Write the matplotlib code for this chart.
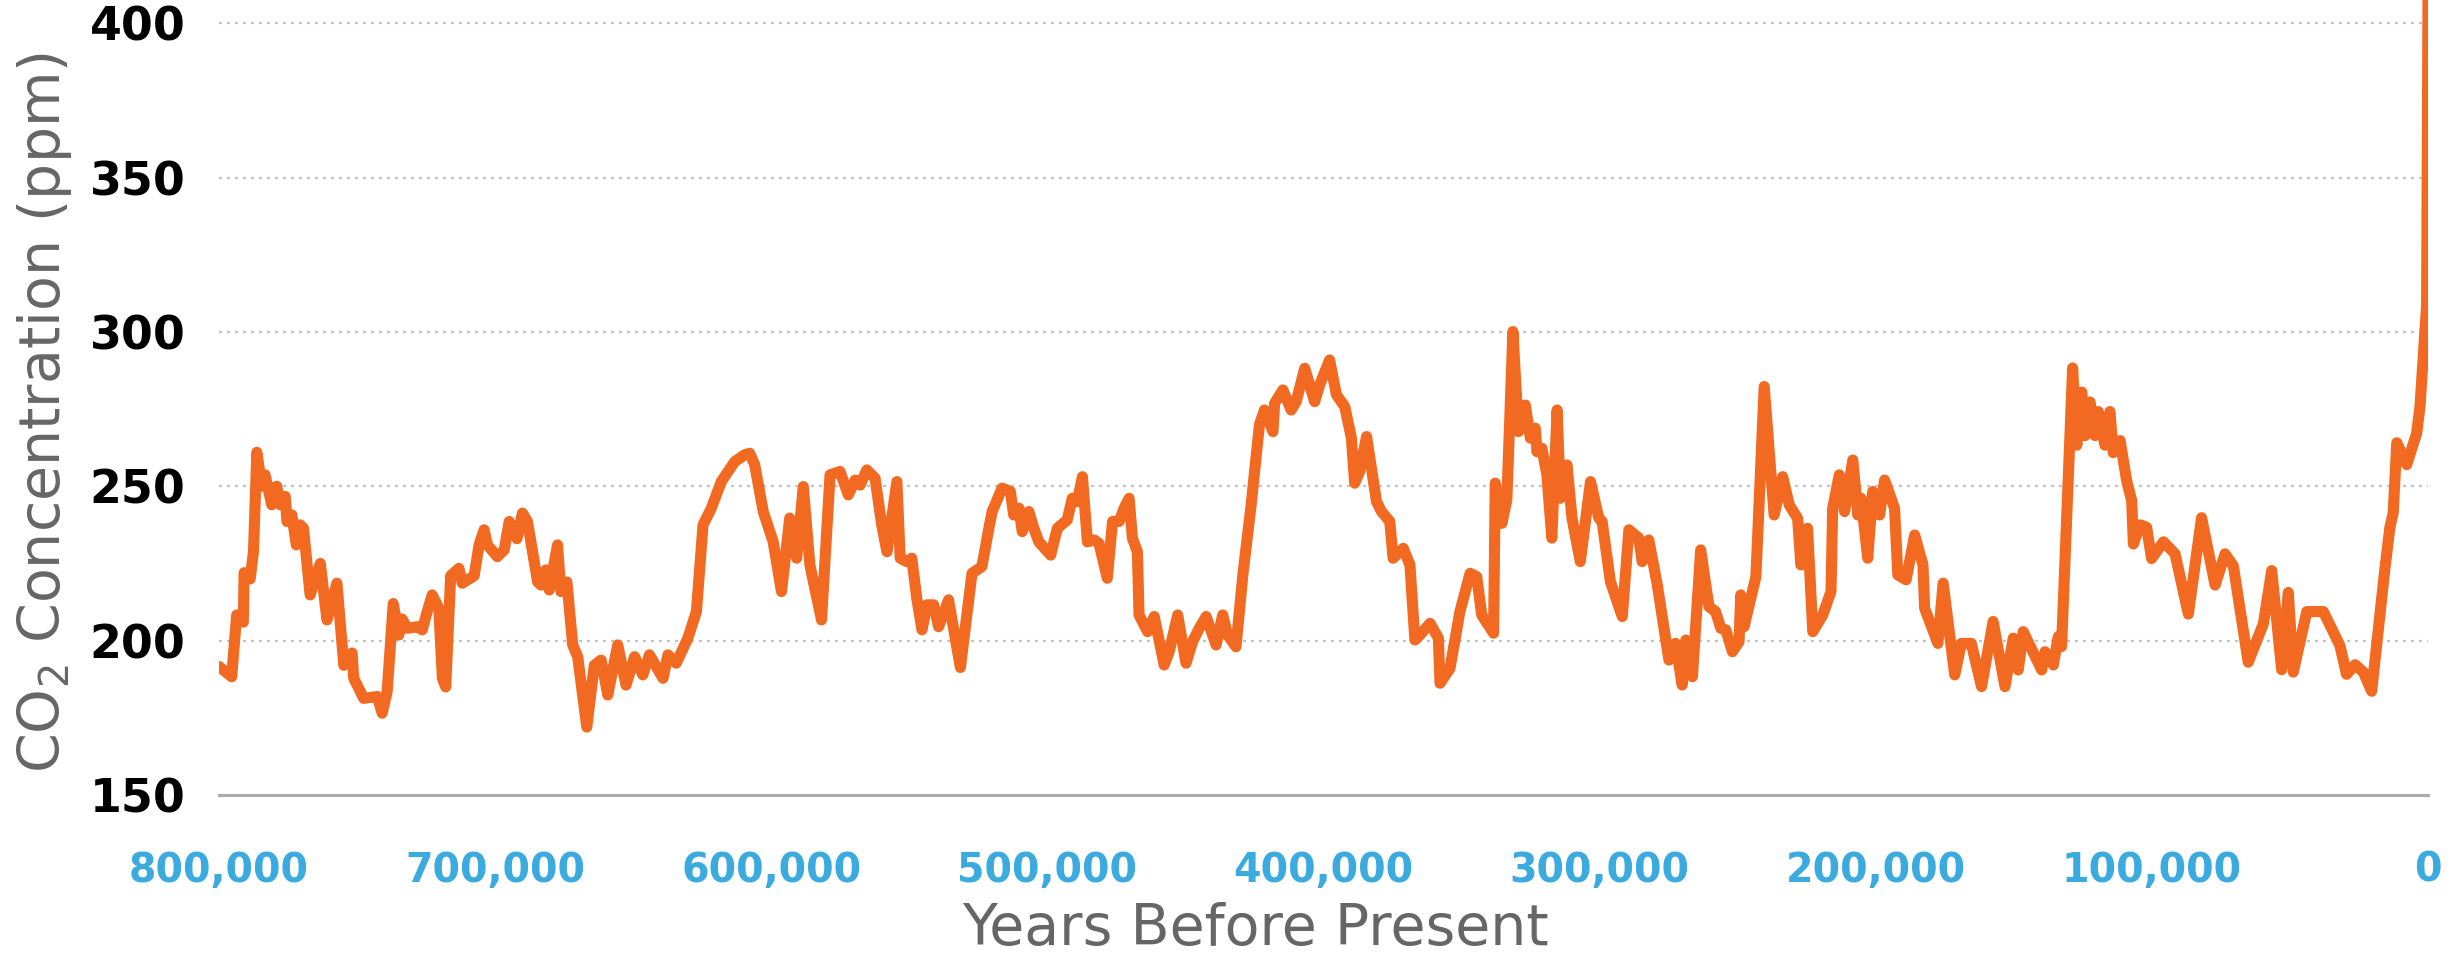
import matplotlib
matplotlib.use('Agg')
import matplotlib.pyplot as plt
import numpy as np

# CO2 record (years before present, ppm)
years_bp = [
    800000, 795400, 793600, 791200, 790900, 788700, 787500, 786300, 784500, 783300,
    780900, 779100, 777800, 776000, 775400, 773600, 772000, 770600, 769400, 767000,
    763300, 760900, 759700, 757300, 754800, 751800, 751200, 747600, 742700, 740900,
    739100, 736900, 734900, 733700, 731800, 728200, 726400, 724600, 722800, 720400,
    719100, 717900, 716100, 713100, 711900, 707600, 705800, 704000, 702800, 699200,
    696700, 694900, 693700, 692100, 690100, 688300, 684600, 683400, 681600, 680400,
    677400, 676200, 674000, 671900, 670100, 666800, 664100, 661600, 659200, 655600,
    652600, 649500, 646500, 644100, 639200, 637400, 634400, 630200, 627100, 624700,
    621700, 618100, 613200, 609600, 607800, 606000, 602900, 599300, 596300, 593300,
    590800, 588400, 586000, 581800, 578700, 575100, 572100, 569600, 567800, 565400,
    562400, 560000, 558100, 554500, 553300, 550900, 549100, 547300, 545400, 543600,
    541200, 539400, 535800, 531500, 527300, 523700, 521200, 520000, 516400, 513400,
    512200, 510300, 509100, 506700, 504900, 503100, 498800, 496400, 492800, 491000,
    489200, 487300, 485500, 483100, 481300, 478300, 476400, 474000, 472200, 470400,
    469200, 467400, 466800, 463700, 461300, 457700, 455900, 452800, 449800, 447400,
    445000, 442500, 438900, 436500, 434700, 431700, 429200, 426200, 423200, 421400,
    418300, 417700, 414700, 411700, 409900, 406800, 403200, 401400, 397800, 395300,
    392300, 389900, 388700, 386900, 384400, 380800, 379000, 376000, 374800, 371100,
    368700, 366900, 364500, 361400, 358400, 357800, 354200, 350600, 346900, 344500,
    342700, 338400, 337800, 335400, 333600, 331400, 329400, 326900, 325100, 323300,
    322700, 320900, 319100, 317300, 315400, 314200, 311800, 310000, 307000, 303300,
    300300, 299100, 296100, 291800, 289400, 285800, 284600, 282200, 279100, 274900,
    272500, 270100, 268800, 266400, 263400, 260400, 258000, 256100, 254300, 251900,
    249500, 248900, 247700, 243400, 240400, 236800, 233700, 231300, 228300, 227100,
    224700, 222800, 219200, 216200, 215600, 213200, 211300, 208300, 206500, 205300,
    202900, 201100, 198600, 196800, 193200, 192000, 189000, 185900, 182900, 182300,
    177500, 175600, 171400, 169000, 165400, 161700, 157500, 153200, 150200, 148400,
    146600, 139900, 138700, 135700, 133900, 132700, 128700, 127200, 125400, 124200,
    122400, 120600, 119400, 117000, 115200, 114000, 111500, 109100, 107300, 106700,
    104300, 101900, 100100, 95800, 91600, 86800, 82000, 77100, 73500, 70500,
    65100, 59600, 56600, 53000, 50600, 48800, 43900, 37900, 31900, 29500,
    26400, 23400, 20400, 15600, 13800, 12600, 11300, 7700, 4100, 2900,
    500, 0,
]
co2_ppm = [
    191.6, 188.3, 208.3, 206.0, 222.0, 220.0, 229.0, 261.0, 250.0, 253.7,
    244.0, 250.0, 244.0, 246.7, 238.6, 240.7, 231.0, 237.5, 236.4, 214.8,
    225.0, 206.7, 210.5, 218.6, 192.0, 196.0, 187.8, 181.3, 181.9, 176.5,
    183.5, 212.0, 201.8, 207.0, 204.0, 204.5, 203.5, 209.4, 214.8, 210.5,
    187.8, 185.0, 221.0, 223.4, 218.6, 221.0, 231.0, 235.9, 231.0, 227.2,
    229.4, 238.6, 236.4, 233.0, 241.3, 238.6, 219.0, 218.0, 222.9, 216.4,
    231.0, 215.9, 219.0, 198.6, 194.8, 172.0, 192.0, 193.7, 182.4, 198.6,
    185.6, 194.8, 188.9, 195.4, 187.8, 195.4, 192.7, 200.8, 209.4, 237.5,
    242.9, 251.5, 258.0, 260.2, 260.7, 257.0, 241.8, 232.0, 215.9, 239.7,
    226.7, 249.9, 224.5, 206.7, 253.7, 254.8, 247.2, 252.0, 250.4, 255.3,
    252.6, 237.5, 228.8, 251.5, 226.7, 225.6, 226.7, 213.7, 203.5, 211.6,
    211.6, 204.5, 213.2, 191.3, 221.8, 224.0, 236.4, 241.8, 249.4, 248.3,
    240.7, 242.9, 235.3, 241.8, 236.4, 232.0, 227.7, 236.4, 239.1, 246.1,
    245.0, 253.1, 232.0, 232.6, 231.5, 220.2, 238.6, 238.6, 242.9, 246.1,
    233.2, 228.8, 208.3, 202.9, 207.8, 192.1, 196.4, 208.3, 192.7, 199.7,
    204.0, 207.8, 198.6, 208.3, 201.8, 198.0, 221.3, 244.0, 269.9, 274.7,
    267.7, 276.9, 281.2, 274.7, 277.4, 288.2, 277.4, 282.8, 290.9, 279.6,
    275.8, 265.6, 251.0, 254.8, 266.1, 245.0, 241.8, 238.6, 226.7, 229.9,
    224.5, 200.2, 202.4, 205.6, 200.8, 186.2, 191.0, 209.4, 221.8, 220.7,
    208.3, 202.4, 251.0, 238.0, 245.6, 300.1, 267.7, 276.3, 265.6, 268.8,
    261.2, 262.3, 253.7, 233.2, 274.7, 246.1, 256.9, 239.7, 225.6, 251.5,
    239.7, 238.6, 219.1, 207.8, 235.9, 233.2, 225.6, 232.6, 218.0, 193.7,
    199.1, 185.6, 200.2, 188.3, 229.4, 211.0, 209.4, 204.0, 203.5, 196.4,
    199.7, 214.8, 204.5, 220.7, 282.3, 240.7, 253.1, 243.9, 239.6, 224.5,
    236.4, 202.9, 208.3, 215.9, 242.9, 253.7, 241.8, 258.5, 240.7, 246.1,
    226.7, 248.3, 240.7, 252.0, 242.9, 221.3, 219.7, 234.2, 224.5, 210.5,
    199.1, 218.6, 188.9, 199.1, 199.1, 185.1, 206.2, 185.1, 200.8, 190.5,
    202.9, 190.5, 196.4, 192.1, 201.3, 198.1, 288.3, 263.3, 280.5, 266.4,
    277.3, 266.4, 274.2, 263.3, 274.2, 260.9, 264.8, 251.6, 245.3, 231.3,
    237.5, 236.7, 226.6, 232.0, 228.1, 208.6, 239.8, 218.0, 228.1, 224.2,
    193.0, 205.5, 222.7, 190.6, 215.6, 189.8, 209.4, 209.4, 198.4, 189.1,
    192.2, 189.8, 183.6, 223.4, 236.7, 241.4, 264.1, 257.0, 267.2, 275.8,
    308.6, 410.0,
]

x_ticks = [800000, 700000, 600000, 500000, 400000, 300000, 200000, 100000, 0]
y_ticks = [150, 200, 250, 300, 350, 400]

line_color = '#F26A21'
tick_blue = '#3BABDF'
label_grey = '#666666'

fig = plt.figure(figsize=(24.63, 9.57), dpi=100)
ax = fig.add_axes([219 / 2463, 162 / 957, (2428 - 219) / 2463, 795 / 957])

ax.plot(years_bp, co2_ppm, color=line_color, linewidth=8, solid_joinstyle='round',
        solid_capstyle='round', zorder=3)

# x axis runs backwards in time: 800,000 on the left, 0 on the right
ax.set_xlim(800000, 0)
ax.set_ylim(150, 407.5)

ax.set_xticks(x_ticks)
ax.set_xticklabels([f'{t:,}' for t in x_ticks])
ax.set_yticks(y_ticks)

ax.tick_params(axis='x', length=0, pad=40, labelsize=28.5, labelcolor=tick_blue)
ax.tick_params(axis='y', length=0, pad=24, labelsize=33, labelcolor='black')
for lab in ax.get_xticklabels() + ax.get_yticklabels():
    lab.set_fontweight('bold')

# dotted horizontal gridlines
ax.set_axisbelow(True)
ax.yaxis.grid(True, color='#c4c4c4', linewidth=1.6, linestyle=(0, (1.4, 2.2)))
ax.xaxis.grid(False)

for side in ['top', 'right', 'left']:
    ax.spines[side].set_visible(False)
ax.spines['bottom'].set_color('#aaaaaa')
ax.spines['bottom'].set_linewidth(2.2)

fig.text(45 / 2463, (957 - 412) / 957, 'CO$_2$ Concentration (ppm)', rotation=90,
         ha='center', va='center', fontsize=41, color=label_grey)
fig.text(1255 / 2463, (957 - 929) / 957, 'Years Before Present',
         ha='center', va='center', fontsize=41, color=label_grey)

fig.savefig('out.png', dpi=100)
